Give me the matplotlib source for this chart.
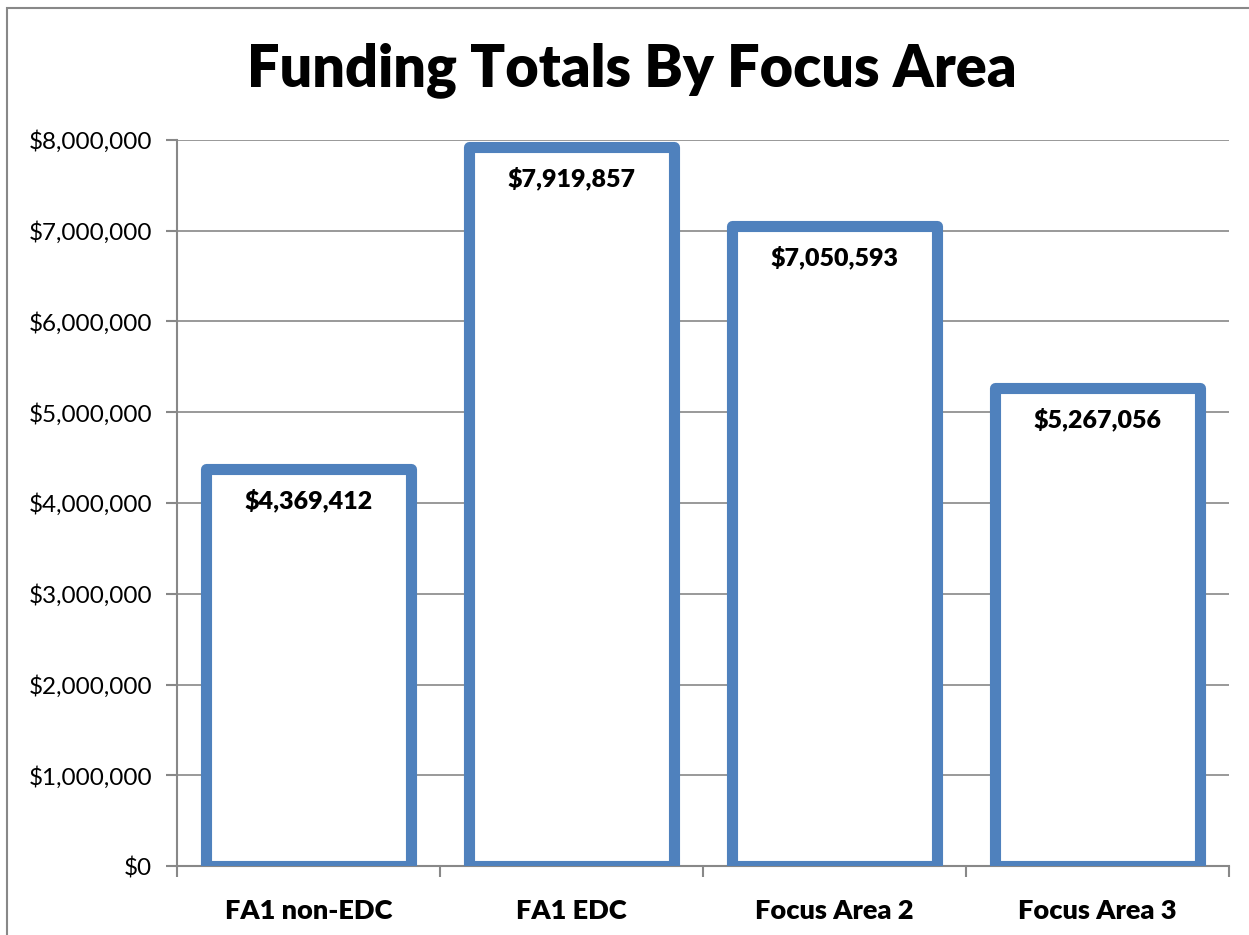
import matplotlib
matplotlib.use("Agg")
import matplotlib.pyplot as plt
from matplotlib.patches import Rectangle
from matplotlib.ticker import FuncFormatter, MultipleLocator
from matplotlib import font_manager

categories = ["FA1 non-EDC", "FA1 EDC", "Focus Area 2", "Focus Area 3"]
values = [4369412, 7919857, 7050593, 5267056]
labels = ["$4,369,412", "$7,919,857", "$7,050,593", "$5,267,056"]

plt.rcParams['font.family'] = ['Lato', 'DejaVu Sans']
print(sorted(set((f.name, f.weight) for f in font_manager.fontManager.ttflist if 'Lato' in f.name)))

W, H = 1249, 935
fig = plt.figure(figsize=(W/100, H/100), dpi=100)
fig.patches.append(Rectangle((7/W, -0.05), 1.2, 1 - 8/H + 0.05, transform=fig.transFigure,
                             fill=False, edgecolor='#888888', linewidth=1.5))

ax = fig.add_axes([177/W, 1 - 866/H, (1229-177)/W, (866-140)/H])
x = list(range(len(categories)))
ax.bar(x, values, width=0.78, facecolor='white', edgecolor='#4F81BD',
       linewidth=8, joinstyle='round', zorder=3)
ax.set_xlim(-0.5, len(categories) - 0.5)
ax.set_ylim(0, 8000000)
ax.yaxis.set_major_locator(MultipleLocator(1000000))
ax.yaxis.set_major_formatter(FuncFormatter(lambda v, p: "${:,.0f}".format(v)))
ax.grid(axis='y', color='#888888', linewidth=1.2, zorder=0)
for s in ['top', 'right']:
    ax.spines[s].set_visible(False)
for s in ['left', 'bottom']:
    ax.spines[s].set_color('#888888')
    ax.spines[s].set_linewidth(1.5)
ax.set_xticks([i - 0.5 for i in range(len(categories) + 1)], minor=False)
ax.set_xticklabels([])
ax.set_xticks(x, minor=True)
ax.set_xticklabels(categories, minor=True, fontsize=19.5, fontweight='heavy')
ax.tick_params(axis='x', which='minor', length=0, pad=24)
ax.tick_params(axis='x', which='major', length=8, width=1.5, color='#888888', direction='out')
ax.tick_params(axis='y', length=8, width=1.5, color='#888888', labelsize=17.5, pad=10)

for xi, v, lab in zip(x, values, labels):
    ax.annotate(lab, (xi, v), xytext=(0, -14), textcoords='offset points',
                ha='center', va='top', fontsize=18, fontweight='heavy', zorder=4)

fig.text(632/W, 1 - 70/H, "Funding Totals By Focus Area", ha='center', va='center',
         fontsize=41.5, fontweight='heavy')

fig.savefig("out.png", dpi=100)
